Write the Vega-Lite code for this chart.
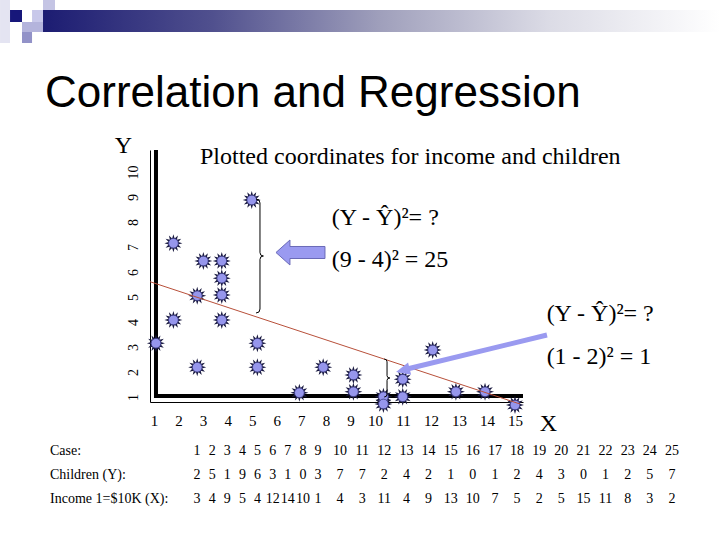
{
  "$schema": "https://vega.github.io/schema/vega-lite/v6.json",
  "autosize": {"type": "none"},
  "width": 373,
  "height": 252,
  "padding": {"left": 150, "top": 150, "right": 197, "bottom": 138},
  "background": "white",
  "config": {"view": {"stroke": null}, "font": "Liberation Serif"},
  "datasets": {
    "points": [
      {"income": 4.98, "children": 8.88}, {"income": 1.79, "children": 7.15},
      {"income": 3.01, "children": 6.44}, {"income": 3.76, "children": 6.44},
      {"income": 3.76, "children": 5.75}, {"income": 3.76, "children": 5.08},
      {"income": 2.76, "children": 5.05}, {"income": 1.79, "children": 4.08},
      {"income": 3.76, "children": 4.08}, {"income": 1.08, "children": 3.15},
      {"income": 5.21, "children": 3.15}, {"income": 2.76, "children": 2.19},
      {"income": 5.21, "children": 2.19}, {"income": 6.92, "children": 1.17},
      {"income": 7.89, "children": 2.19}, {"income": 9.12, "children": 1.88},
      {"income": 9.12, "children": 1.21}, {"income": 10.3, "children": 1.01},
      {"income": 10.3, "children": 0.72}, {"income": 10.99, "children": 1.71},
      {"income": 10.99, "children": 1.01}, {"income": 12.06, "children": 2.88},
      {"income": 12.89, "children": 1.21}, {"income": 13.93, "children": 1.21},
      {"income": 15.0, "children": 0.68}
    ],
    "cases": [
      {"case": 1, "children": 2, "income": 3}, {"case": 2, "children": 5, "income": 4},
      {"case": 3, "children": 1, "income": 9}, {"case": 4, "children": 9, "income": 5},
      {"case": 5, "children": 6, "income": 4}, {"case": 6, "children": 3, "income": 12},
      {"case": 7, "children": 1, "income": 14}, {"case": 8, "children": 0, "income": 10},
      {"case": 9, "children": 3, "income": 1}, {"case": 10, "children": 7, "income": 4},
      {"case": 11, "children": 7, "income": 3}, {"case": 12, "children": 2, "income": 11},
      {"case": 13, "children": 4, "income": 4}, {"case": 14, "children": 2, "income": 9},
      {"case": 15, "children": 1, "income": 13}, {"case": 16, "children": 0, "income": 10},
      {"case": 17, "children": 1, "income": 7}, {"case": 18, "children": 2, "income": 5},
      {"case": 19, "children": 4, "income": 2}, {"case": 20, "children": 3, "income": 5},
      {"case": 21, "children": 0, "income": 15}, {"case": 22, "children": 1, "income": 11},
      {"case": 23, "children": 2, "income": 8}, {"case": 24, "children": 5, "income": 3},
      {"case": 25, "children": 7, "income": 2}
    ],
    "rowlabels": [
      {"key": "case", "label": "Case:"},
      {"key": "children", "label": "Children (Y):"},
      {"key": "income", "label": "Income 1=$10K (X):"}
    ],
    "one": [{}]
  },
  "layer": [
    {
      "data": {"name": "one"},
      "mark": {"type": "rect", "fill": {"gradient": "linear", "x1": 0, "y1": 0, "x2": 1, "y2": 0, "stops": [{"offset": 0, "color": "#1c1c72"}, {"offset": 0.25, "color": "#50508e"}, {"offset": 0.5, "color": "#a0a0bc"}, {"offset": 0.75, "color": "#dcdce6"}, {"offset": 1, "color": "#ffffff"}]}},
      "encoding": {
        "x": {"datum": -3.52, "type": "quantitative", "scale": {"type": "linear", "domain": [0.837, 10, 15.286], "range": [0, 225, 373], "zero": false, "nice": false}, "axis": null},
        "x2": {"datum": 22.32},
        "y": {"datum": 16.48, "type": "quantitative", "scale": {"domain": [0.8, 10.88], "zero": false, "nice": false}, "axis": null},
        "y2": {"datum": 15.6}
      }
    },
    {
      "data": {"name": "one"},
      "mark": {"type": "rect", "fill": "#e4e4f2"},
      "encoding": {
        "x": {"datum": -5.27, "type": "quantitative", "scale": {"type": "linear", "domain": [0.837, 10, 15.286], "range": [0, 225, 373], "zero": false, "nice": false}, "axis": null},
        "x2": {"datum": -4.863},
        "y": {"datum": 16.88, "type": "quantitative", "scale": {"domain": [0.8, 10.88], "zero": false, "nice": false}, "axis": null},
        "y2": {"datum": 15.16}
      }
    },
    {
      "data": {"name": "one"},
      "mark": {"type": "rect", "fill": "#17177a"},
      "encoding": {
        "x": {"datum": -4.863, "type": "quantitative", "scale": {"type": "linear", "domain": [0.837, 10, 15.286], "range": [0, 225, 373], "zero": false, "nice": false}, "axis": null},
        "x2": {"datum": -4.375},
        "y": {"datum": 16.48, "type": "quantitative", "scale": {"domain": [0.8, 10.88], "zero": false, "nice": false}, "axis": null},
        "y2": {"datum": 16.0}
      }
    },
    {
      "data": {"name": "one"},
      "mark": {"type": "rect", "fill": "#c8c8ea"},
      "encoding": {
        "x": {"datum": -3.967, "type": "quantitative", "scale": {"type": "linear", "domain": [0.837, 10, 15.286], "range": [0, 225, 373], "zero": false, "nice": false}, "axis": null},
        "x2": {"datum": -3.52},
        "y": {"datum": 16.48, "type": "quantitative", "scale": {"domain": [0.8, 10.88], "zero": false, "nice": false}, "axis": null},
        "y2": {"datum": 16.0}
      }
    },
    {
      "data": {"name": "one"},
      "mark": {"type": "rect", "fill": "#c4c4e4"},
      "encoding": {
        "x": {"datum": -3.52, "type": "quantitative", "scale": {"type": "linear", "domain": [0.837, 10, 15.286], "range": [0, 225, 373], "zero": false, "nice": false}, "axis": null},
        "x2": {"datum": -3.031},
        "y": {"datum": 16.88, "type": "quantitative", "scale": {"domain": [0.8, 10.88], "zero": false, "nice": false}, "axis": null},
        "y2": {"datum": 16.48}
      }
    },
    {
      "data": {"name": "one"},
      "mark": {"type": "rect", "fill": "#b4b4dc"},
      "encoding": {
        "x": {"datum": -4.375, "type": "quantitative", "scale": {"type": "linear", "domain": [0.837, 10, 15.286], "range": [0, 225, 373], "zero": false, "nice": false}, "axis": null},
        "x2": {"datum": -3.52},
        "y": {"datum": 16.0, "type": "quantitative", "scale": {"domain": [0.8, 10.88], "zero": false, "nice": false}, "axis": null},
        "y2": {"datum": 15.6}
      }
    },
    {
      "data": {"name": "one"},
      "mark": {"type": "rect", "fill": "#9292c8"},
      "encoding": {
        "x": {"datum": -4.375, "type": "quantitative", "scale": {"type": "linear", "domain": [0.837, 10, 15.286], "range": [0, 225, 373], "zero": false, "nice": false}, "axis": null},
        "x2": {"datum": -3.967},
        "y": {"datum": 15.6, "type": "quantitative", "scale": {"domain": [0.8, 10.88], "zero": false, "nice": false}, "axis": null},
        "y2": {"datum": 15.16}
      }
    },
    {
      "data": {"name": "one"},
      "mark": {"type": "rule", "color": "black", "strokeWidth": 4},
      "encoding": {
        "x": {"datum": 1.081, "type": "quantitative", "scale": {"type": "linear", "domain": [0.837, 10, 15.286], "range": [0, 225, 373], "zero": false, "nice": false}, "axis": null},
        "y": {"datum": 0.96, "type": "quantitative", "scale": {"domain": [0.8, 10.88], "zero": false, "nice": false}, "axis": null},
        "y2": {"datum": 10.88}
      }
    },
    {
      "data": {"name": "one"},
      "mark": {"type": "rule", "color": "black", "strokeWidth": 4},
      "encoding": {
        "x": {"datum": 1.0, "type": "quantitative", "scale": {"type": "linear", "domain": [0.837, 10, 15.286], "range": [0, 225, 373], "zero": false, "nice": false}, "axis": null},
        "x2": {"datum": 15.286},
        "y": {"datum": 1.04, "type": "quantitative", "scale": {"domain": [0.8, 10.88], "zero": false, "nice": false}, "axis": null}
      }
    },
    {
      "data": {"name": "points"},
      "mark": {"type": "point", "shape": "M0,-1L0.142,-0.531L0.5,-0.866L0.389,-0.389L0.866,-0.5L0.531,-0.142L1,0L0.531,0.142L0.866,0.5L0.389,0.389L0.5,0.866L0.142,0.531L0,1L-0.142,0.531L-0.5,0.866L-0.389,0.389L-0.866,0.5L-0.531,0.142L-1,0L-0.531,-0.142L-0.866,-0.5L-0.389,-0.389L-0.5,-0.866L-0.142,-0.531Z", "filled": true, "color": "#1a1a40", "opacity": 1, "size": 324},
      "encoding": {
        "x": {"field": "income", "type": "quantitative", "scale": {"type": "linear", "domain": [0.837, 10, 15.286], "range": [0, 225, 373], "zero": false, "nice": false},
          "axis": {"values": [1, 2, 3, 4, 5, 6, 7, 8, 9, 10, 11, 12, 13, 14, 15], "orient": "bottom", "title": "X", "titleFont": "Liberation Serif", "titleFontSize": 24, "titleFontWeight": "normal", "titleColor": "black", "titleX": 398, "titleY": 21, "titleAlign": "center", "titleBaseline": "middle", "labelFont": "Liberation Serif", "labelFontSize": 15, "labelColor": "black", "labelPadding": 11, "labelFlush": false, "labelOverlap": false, "ticks": false, "tickSize": 0, "domain": true, "domainColor": "black", "domainWidth": 1, "grid": false}},
        "y": {"field": "children", "type": "quantitative", "scale": {"domain": [0.8, 10.88], "zero": false, "nice": false},
          "axis": {"values": [1, 2, 3, 4, 5, 6, 7, 8, 9, 10], "orient": "left", "title": "Y", "titleFont": "Liberation Serif", "titleFontSize": 24, "titleFontWeight": "normal", "titleColor": "black", "titleAngle": 0, "titleX": -27, "titleY": -5, "titleAlign": "center", "titleBaseline": "middle", "labelFont": "Liberation Serif", "labelFontSize": 14, "labelColor": "black", "labelAngle": 270, "labelAlign": "center", "labelBaseline": "middle", "labelPadding": 17, "labelFlush": false, "labelOverlap": false, "ticks": false, "tickSize": 0, "domain": true, "domainColor": "black", "domainWidth": 1, "grid": false}}
      }
    },
    {
      "data": {"name": "points"},
      "mark": {"type": "point", "shape": "circle", "filled": true, "color": "#9696ec", "stroke": "#3a3a80", "strokeWidth": 0.8, "opacity": 1, "size": 95},
      "encoding": {
        "x": {"field": "income", "type": "quantitative", "scale": {"type": "linear", "domain": [0.837, 10, 15.286], "range": [0, 225, 373], "zero": false, "nice": false}, "axis": null},
        "y": {"field": "children", "type": "quantitative", "scale": {"domain": [0.8, 10.88], "zero": false, "nice": false}, "axis": null}
      }
    },
    {
      "data": {"name": "one"},
      "mark": {"type": "rule", "color": "#b8503a", "strokeWidth": 1},
      "encoding": {
        "x": {"datum": 0.837, "type": "quantitative", "scale": {"type": "linear", "domain": [0.837, 10, 15.286], "range": [0, 225, 373], "zero": false, "nice": false}, "axis": null},
        "x2": {"datum": 15.179},
        "y": {"datum": 5.612, "type": "quantitative", "scale": {"domain": [0.8, 10.88], "zero": false, "nice": false}, "axis": null},
        "y2": {"datum": 0.72}
      }
    },
    {
      "data": {"name": "one"},
      "mark": {"type": "point", "shape": "M-0.07,-1Q0,-1 0,-0.93L0,-0.06Q0,0 0.06,0Q0,0 0,0.06L0,0.93Q0,1 -0.07,1", "filled": false, "stroke": "black", "strokeWidth": 1, "opacity": 1, "size": 12996},
      "encoding": {
        "x": {"datum": 5.316, "type": "quantitative", "scale": {"type": "linear", "domain": [0.837, 10, 15.286], "range": [0, 225, 373], "zero": false, "nice": false}, "axis": null},
        "y": {"datum": 6.64, "type": "quantitative", "scale": {"domain": [0.8, 10.88], "zero": false, "nice": false}, "axis": null}
      }
    },
    {
      "data": {"name": "one"},
      "mark": {"type": "point", "shape": "M-0.15,-1Q0,-1 0,-0.85L0,-0.12Q0,0 0.15,0Q0,0 0,0.12L0,0.85Q0,1 -0.15,1", "filled": false, "stroke": "black", "strokeWidth": 1, "opacity": 1, "size": 1444},
      "encoding": {
        "x": {"datum": 10.43, "type": "quantitative", "scale": {"type": "linear", "domain": [0.837, 10, 15.286], "range": [0, 225, 373], "zero": false, "nice": false}, "axis": null},
        "y": {"datum": 1.76, "type": "quantitative", "scale": {"domain": [0.8, 10.88], "zero": false, "nice": false}, "axis": null}
      }
    },
    {
      "data": {"name": "one"},
      "mark": {"type": "point", "shape": "M-1,0L-0.43,-0.51L-0.43,-0.245L1,-0.245L1,0.245L-0.43,0.245L-0.43,0.51Z", "filled": true, "color": "#9a9af0", "stroke": "#6a6ab8", "strokeWidth": 1, "opacity": 1, "size": 2401},
      "encoding": {
        "x": {"datum": 6.965, "type": "quantitative", "scale": {"type": "linear", "domain": [0.837, 10, 15.286], "range": [0, 225, 373], "zero": false, "nice": false}, "axis": null},
        "y": {"datum": 6.78, "type": "quantitative", "scale": {"domain": [0.8, 10.88], "zero": false, "nice": false}, "axis": null}
      }
    },
    {
      "data": {"name": "one"},
      "mark": {"type": "rule", "color": "#9a9af0", "strokeWidth": 5, "strokeCap": "butt"},
      "encoding": {
        "x": {"datum": 16.143, "type": "quantitative", "scale": {"type": "linear", "domain": [0.837, 10, 15.286], "range": [0, 225, 373], "zero": false, "nice": false}, "axis": null},
        "x2": {"datum": 11.071},
        "y": {"datum": 3.48, "type": "quantitative", "scale": {"domain": [0.8, 10.88], "zero": false, "nice": false}, "axis": null},
        "y2": {"datum": 2.1}
      }
    },
    {
      "data": {"name": "one"},
      "mark": {"type": "point", "shape": "M-1,0L1,-0.9L1,0.9Z", "filled": true, "color": "#9a9af0", "opacity": 1, "size": 196, "angle": 346},
      "encoding": {
        "x": {"datum": 10.993, "type": "quantitative", "scale": {"type": "linear", "domain": [0.837, 10, 15.286], "range": [0, 225, 373], "zero": false, "nice": false}, "axis": null},
        "y": {"datum": 2.068, "type": "quantitative", "scale": {"domain": [0.8, 10.88], "zero": false, "nice": false}, "axis": null}
      }
    },
    {
      "data": {"name": "one"},
      "mark": {"type": "text", "text": "Correlation and Regression", "font": "Liberation Sans", "fontSize": 44, "align": "left", "baseline": "alphabetic", "color": "black"},
      "encoding": {
        "x": {"datum": -3.438, "type": "quantitative", "scale": {"type": "linear", "domain": [0.837, 10, 15.286], "range": [0, 225, 373], "zero": false, "nice": false}, "axis": null},
        "y": {"datum": 12.6, "type": "quantitative", "scale": {"domain": [0.8, 10.88], "zero": false, "nice": false}, "axis": null}
      }
    },
    {
      "data": {"name": "one"},
      "mark": {"type": "text", "text": "Plotted coordinates for income and children", "font": "Liberation Serif", "fontSize": 24, "align": "left", "baseline": "middle", "color": "black"},
      "encoding": {
        "x": {"datum": 2.873, "type": "quantitative", "scale": {"type": "linear", "domain": [0.837, 10, 15.286], "range": [0, 225, 373], "zero": false, "nice": false}, "axis": null},
        "y": {"datum": 10.6, "type": "quantitative", "scale": {"domain": [0.8, 10.88], "zero": false, "nice": false}, "axis": null}
      }
    },
    {
      "data": {"name": "one"},
      "mark": {"type": "text", "text": "(Y - Ŷ)²= ?", "font": "Liberation Serif", "fontSize": 24, "align": "left", "baseline": "middle", "color": "black"},
      "encoding": {
        "x": {"datum": 8.235, "type": "quantitative", "scale": {"type": "linear", "domain": [0.837, 10, 15.286], "range": [0, 225, 373], "zero": false, "nice": false}, "axis": null},
        "y": {"datum": 8.16, "type": "quantitative", "scale": {"domain": [0.8, 10.88], "zero": false, "nice": false}, "axis": null}
      }
    },
    {
      "data": {"name": "one"},
      "mark": {"type": "text", "text": "(9 - 4)² = 25", "font": "Liberation Serif", "fontSize": 24, "align": "left", "baseline": "middle", "color": "black"},
      "encoding": {
        "x": {"datum": 8.235, "type": "quantitative", "scale": {"type": "linear", "domain": [0.837, 10, 15.286], "range": [0, 225, 373], "zero": false, "nice": false}, "axis": null},
        "y": {"datum": 6.48, "type": "quantitative", "scale": {"domain": [0.8, 10.88], "zero": false, "nice": false}, "axis": null}
      }
    },
    {
      "data": {"name": "one"},
      "mark": {"type": "text", "text": "(Y - Ŷ)²= ?", "font": "Liberation Serif", "fontSize": 24, "align": "left", "baseline": "middle", "color": "black"},
      "encoding": {
        "x": {"datum": 16.13, "type": "quantitative", "scale": {"type": "linear", "domain": [0.837, 10, 15.286], "range": [0, 225, 373], "zero": false, "nice": false}, "axis": null},
        "y": {"datum": 4.32, "type": "quantitative", "scale": {"domain": [0.8, 10.88], "zero": false, "nice": false}, "axis": null}
      }
    },
    {
      "data": {"name": "one"},
      "mark": {"type": "text", "text": "(1 - 2)² = 1", "font": "Liberation Serif", "fontSize": 24, "align": "left", "baseline": "middle", "color": "black"},
      "encoding": {
        "x": {"datum": 16.13, "type": "quantitative", "scale": {"type": "linear", "domain": [0.837, 10, 15.286], "range": [0, 225, 373], "zero": false, "nice": false}, "axis": null},
        "y": {"datum": 2.61, "type": "quantitative", "scale": {"domain": [0.8, 10.88], "zero": false, "nice": false}, "axis": null}
      }
    },
    {
      "data": {"name": "rowlabels"},
      "mark": {"type": "text", "font": "Liberation Serif", "fontSize": 14, "align": "left", "baseline": "middle", "color": "black"},
      "encoding": {
        "x": {"datum": 0, "type": "quantitative", "scale": {"type": "linear", "domain": [0, 1, 9, 10, 25], "range": [-100, 47, 168, 190, 522], "zero": false, "nice": false}, "axis": null},
        "y": {"field": "key", "type": "nominal", "scale": {"type": "point", "domain": ["case", "children", "income"], "range": [301, 349], "padding": 0}, "axis": null},
        "text": {"field": "label", "type": "nominal"}
      }
    },
    {
      "data": {"name": "cases"},
      "transform": [{"fold": ["case", "children", "income"], "as": ["key", "value"]}],
      "mark": {"type": "text", "font": "Liberation Serif", "fontSize": 14, "align": "center", "baseline": "middle", "color": "black"},
      "encoding": {
        "x": {"field": "case", "type": "quantitative", "scale": {"type": "linear", "domain": [0, 1, 9, 10, 25], "range": [-100, 47, 168, 190, 522], "zero": false, "nice": false}, "axis": null},
        "y": {"field": "key", "type": "nominal", "scale": {"type": "point", "domain": ["case", "children", "income"], "range": [301, 349], "padding": 0}, "axis": null},
        "text": {"field": "value", "type": "quantitative", "format": "d"}
      }
    }
  ],
  "resolve": {"scale": {"x": "independent", "y": "independent"}}
}
